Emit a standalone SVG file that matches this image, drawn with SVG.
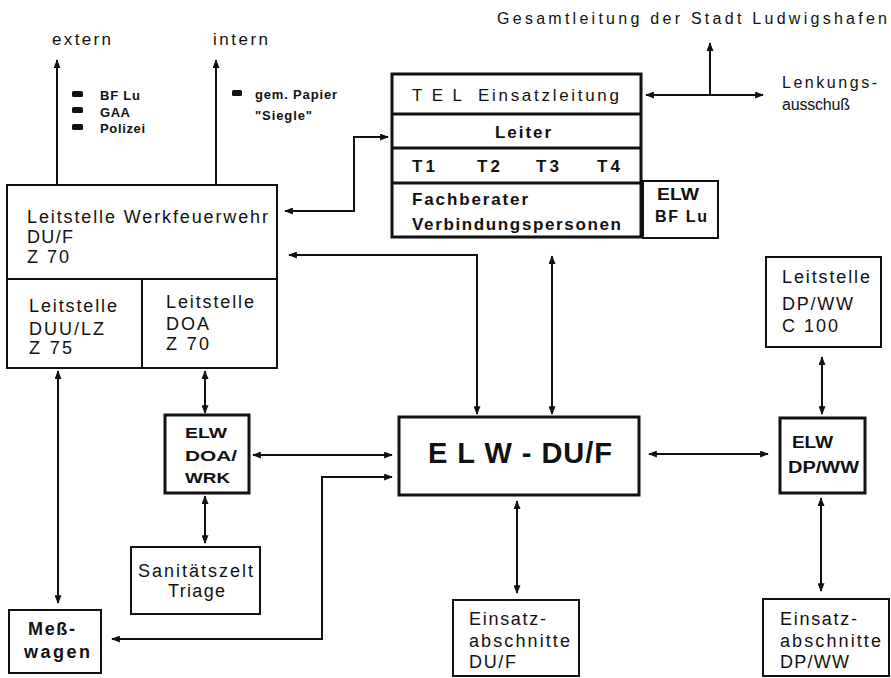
<svg xmlns="http://www.w3.org/2000/svg" width="891" height="678" viewBox="0 0 891 678">
<style>
text{font-family:"Liberation Sans",Arial,sans-serif;fill:#111;}
.t{font-size:18px;}
.s{font-size:17px;}
.b{font-size:16px;font-weight:bold;}
.sm{font-size:13px;font-weight:bold;}
.box{fill:#fff;stroke:#111;stroke-width:2;}
.thick{fill:#fff;stroke:#111;stroke-width:3;}
.div{stroke:#111;stroke-width:3;}
.ln{stroke:#111;stroke-width:2;}
.c path{fill:none;stroke:#111;stroke-width:2;}
.a2{marker-start:url(#ah);marker-end:url(#ah);}
.a1{marker-end:url(#ah);}
</style>
<defs>
<marker id="ah" viewBox="0 0 10 8" refX="9" refY="4" markerWidth="10" markerHeight="7" markerUnits="userSpaceOnUse" orient="auto-start-reverse">
<path d="M0,0 L10,4 L0,8 z" fill="#111"/>
</marker>
</defs>
<g id="connectors" class="c">
<path class="a1" d="M57,185 V60"/>
<path class="a1" d="M216,185 V60"/>
<path class="a2" d="M285,211 H354 V137 H388"/>
<path class="a2" d="M289,255 H477 V414"/>
<path class="a2" d="M552,256 V414"/>
<path class="a1" d="M710,95 V43"/>
<path class="a2" d="M646,95 H763"/>
<path class="a2" d="M205,371 V413"/>
<path class="a2" d="M205,496 V543"/>
<path class="a2" d="M58,371 V603"/>
<path class="a2" d="M253,455 H392"/>
<path class="a2" d="M112,639 H322 V477 H392"/>
<path class="a2" d="M649,454 H768"/>
<path class="a2" d="M822,357 V414"/>
<path class="a2" d="M517,501 V593"/>
<path class="a2" d="M821,498 V591"/>
</g>
<g id="extern">
<text class="s" x="52" y="45" textLength="59">extern</text>
<rect x="72" y="91" width="11" height="6" rx="1.5" fill="#111"/>
<rect x="72" y="107" width="11" height="6" rx="1.5" fill="#111"/>
<rect x="72" y="124" width="11" height="6" rx="1.5" fill="#111"/>
<text class="sm" x="100" y="100" textLength="40">BF Lu</text>
<text class="sm" x="100" y="117" textLength="30">GAA</text>
<text class="sm" x="100" y="133" textLength="45">Polizei</text>
</g>
<g id="intern">
<text class="s" x="213" y="45" textLength="55">intern</text>
<rect x="232" y="90" width="10" height="6" rx="1.5" fill="#111"/>
<text class="sm" x="255" y="99" textLength="82">gem. Papier</text>
<text class="sm" x="255" y="120" textLength="57">"Siegle"</text>
</g>
<g id="gesamtleitung">
<text x="497" y="24" style="font-size:16px" textLength="390">Gesamtleitung der Stadt Ludwigshafen</text>
</g>
<g id="lenkungsausschuss">
<text x="782" y="88" style="font-size:16px" textLength="95">Lenkungs-</text>
<text x="782" y="110" style="font-size:16px" textLength="68">ausschuß</text>
</g>
<g id="tel">
<rect class="thick" x="392" y="74" width="249" height="163"/>
<line class="div" x1="393" y1="114" x2="640" y2="114"/>
<line class="div" x1="393" y1="148" x2="640" y2="148"/>
<line class="div" x1="393" y1="183" x2="640" y2="183"/>
<text class="s" x="412" y="101" textLength="50">T E L</text>
<text class="s" x="478" y="101" textLength="141">Einsatzleitung</text>
<text class="s" x="495" y="138" textLength="56" font-weight="bold">Leiter</text>
<text class="s" x="412" y="172" textLength="23" font-weight="bold">T 1</text>
<text class="s" x="477" y="172" textLength="23" font-weight="bold">T 2</text>
<text class="s" x="536" y="172" textLength="23" font-weight="bold">T 3</text>
<text class="s" x="597" y="172" textLength="23" font-weight="bold">T 4</text>
<text class="s" x="412" y="205" textLength="116" font-weight="bold">Fachberater</text>
<text class="s" x="412" y="230" textLength="209" font-weight="bold">Verbindungspersonen</text>
</g>
<g id="elw-bf-lu">
<rect class="box" x="643" y="181" width="75" height="57"/>
<text class="b" x="657" y="200" textLength="42" lengthAdjust="spacingAndGlyphs">ELW</text>
<text class="b" x="655" y="222" textLength="52">BF Lu</text>
</g>
<g id="leitstelle-werkfeuerwehr">
<rect class="box" x="7" y="185" width="270" height="183"/>
<line class="ln" x1="7" y1="279" x2="277" y2="279"/>
<line class="ln" x1="142" y1="279" x2="142" y2="368"/>
<text class="t" x="27" y="223" textLength="241">Leitstelle Werkfeuerwehr</text>
<text class="t" x="27" y="243" textLength="46">DU/F</text>
<text class="t" x="27" y="263" textLength="42">Z 70</text>
</g>
<g id="leitstelle-duu">
<text class="t" x="29" y="312" textLength="88">Leitstelle</text>
<text class="t" x="29" y="335" textLength="75">DUU/LZ</text>
<text class="t" x="29" y="354" textLength="43">Z 75</text>
</g>
<g id="leitstelle-doa">
<text class="t" x="166" y="308" textLength="88">Leitstelle</text>
<text class="t" x="166" y="330" textLength="43">DOA</text>
<text class="t" x="166" y="350" textLength="43">Z 70</text>
</g>
<g id="elw-doa-wrk">
<rect class="thick" x="165" y="415" width="84" height="78"/>
<text x="185" y="438" style="font-size:15px;font-weight:bold" textLength="42" lengthAdjust="spacingAndGlyphs">ELW</text>
<text x="185" y="461" style="font-size:15px;font-weight:bold" textLength="52" lengthAdjust="spacingAndGlyphs">DOA/</text>
<text x="185" y="483" style="font-size:15px;font-weight:bold" textLength="45" lengthAdjust="spacingAndGlyphs">WRK</text>
</g>
<g id="elw-du-f">
<rect class="thick" x="399" y="417" width="240" height="78"/>
<text x="428" y="463" style="font-size:29px;font-weight:bold" textLength="184">E L W - DU/F</text>
</g>
<g id="sanitaetszelt">
<rect class="box" x="131" y="547" width="129" height="67"/>
<text class="t" x="138" y="577" textLength="115">Sanitätszelt</text>
<text class="t" x="168" y="597" textLength="57">Triage</text>
</g>
<g id="messwagen">
<rect class="box" x="9" y="610" width="92" height="63"/>
<text x="28" y="635" style="font-size:18px;font-weight:bold" textLength="47">Meß-</text>
<text x="24" y="658" style="font-size:18px;font-weight:bold" textLength="66">wagen</text>
</g>
<g id="leitstelle-dp-ww">
<rect class="box" x="766" y="257" width="115" height="90"/>
<text class="t" x="782" y="283" textLength="88">Leitstelle</text>
<text class="t" x="782" y="310" textLength="71">DP/WW</text>
<text class="t" x="782" y="332" textLength="56">C 100</text>
</g>
<g id="elw-dp-ww">
<rect class="thick" x="780" y="418" width="85" height="75"/>
<text class="b" x="792" y="448" textLength="41" lengthAdjust="spacingAndGlyphs">ELW</text>
<text class="b" x="788" y="473" textLength="71" lengthAdjust="spacingAndGlyphs">DP/WW</text>
</g>
<g id="einsatzabschnitte-du-f">
<rect class="box" x="453" y="600" width="126" height="76"/>
<text class="t" x="469" y="625" textLength="77">Einsatz-</text>
<text class="t" x="469" y="647" textLength="101">abschnitte</text>
<text class="t" x="469" y="668" textLength="47">DU/F</text>
</g>
<g id="einsatzabschnitte-dp-ww">
<rect class="box" x="763" y="599" width="126" height="77"/>
<text class="t" x="780" y="625" textLength="77">Einsatz-</text>
<text class="t" x="780" y="647" textLength="101">abschnitte</text>
<text class="t" x="780" y="668" textLength="69">DP/WW</text>
</g>
</svg>
